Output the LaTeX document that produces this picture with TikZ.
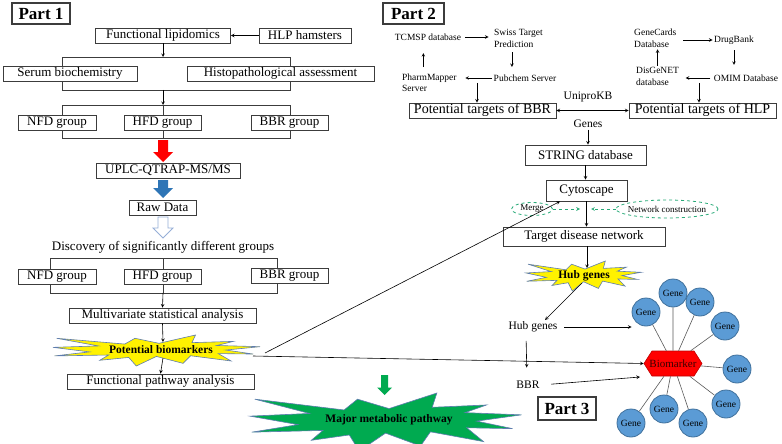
\documentclass[tikz,border=0pt]{standalone}
\usepackage{fontspec}
\setmainfont{Liberation Serif}
\usetikzlibrary{positioning, shapes.geometric, shapes.symbols}
\usetikzlibrary{calc}
\definecolor{boxline}{RGB}{60,60,60}
\definecolor{burstline}{RGB}{95,125,175}
\definecolor{genefill}{RGB}{91,155,213}
\definecolor{geneline}{RGB}{65,113,156}
\definecolor{mdgreen}{RGB}{0,170,80}
\definecolor{dashgreen}{RGB}{40,170,120}
\definecolor{uplcblue}{RGB}{46,117,182}
\definecolor{hollowline}{RGB}{150,175,215}
\tikzstyle{box} = [rectangle, draw=boxline, line width=0.8pt, fill=white, minimum height=15pt, inner sep=0pt, text centered, font=\fontsize{13}{13}\selectfont]
\tikzstyle{partbox} = [rectangle, draw=boxline, line width=1.6pt, fill=white, inner sep=0pt, font=\fontsize{17}{17}\selectfont\bfseries]
\tikzstyle{smalltext} = [inner sep=1.5pt, font=\fontsize{9.5}{11.5}\selectfont, align=left]
\tikzstyle{plaintext} = [inner sep=1.5pt, font=\fontsize{11.5}{11.5}\selectfont]
\tikzstyle{bursttext} = [inner sep=1pt, font=\fontsize{11.5}{11.5}\selectfont\bfseries]
\tikzstyle{gene} = [circle, draw=geneline, fill=genefill, line width=0.8pt, minimum size=28pt, inner sep=0pt, font=\fontsize{9.5}{9.5}\selectfont]
\tikzstyle{dashell} = [ellipse, draw=dashgreen, dashed, line width=0.8pt, inner sep=0pt, inner xsep=-8pt, font=\fontsize{9}{9}\selectfont]
\tikzstyle{arrow} = [->,>=stealth, line width=0.6pt]
\tikzstyle{dasharrow} = [->,>=stealth, dashed, draw=dashgreen, line width=0.7pt]
\tikzstyle{bracket} = [line width=0.8pt, draw=boxline]
\tikzstyle{geneedge} = [line width=0.6pt, draw=black!65]
\tikzset{
  pics/burst/.style={code={\path[pic actions] (0.5,0.2685) -- (0.6723,0) -- (0.6553,0.2465) -- (0.8509,0.2063) -- (0.7732,0.3386) -- (0.9767,0.3767) -- (0.8151,0.4850) -- (0.9444,0.6144) -- (0.7795,0.5992) -- (0.8400,0.8377) -- (0.6491,0.6693) -- (0.6133,0.9138) -- (0.4876,0.6914) -- (0.3928,1) -- (0.3572,0.7235) -- (0.2205,0.8156) -- (0.2624,0.6453) -- (0.0063,0.6753) -- (0.1723,0.5451) -- (0,0.3988) -- (0.2142,0.3526) -- (0.0171,0.1063) -- (0.3385,0.2926) -- (0.3867,0.1063) -- cycle;}},
  pics/fatarrow/.style n args={3}{code={\path[pic actions] (-#1,0) -- (#1,0) -- (#1,{#3-#2}) -- (#2,{#3-#2}) -- (0,#3) -- (-#2,{#3-#2}) -- (-#1,{#3-#2}) -- cycle;}}
}
\begin{document}
\begin{tikzpicture}[x=1pt, y=-1pt]
		\clip (0,0) rectangle (782,444);
		%Part 1 brackets
		\draw[bracket] (62,57) rectangle (290,90);
		\draw[bracket] (62,105) rectangle (290,138);
		\draw[bracket] (50,258) rectangle (277,293);
		\coordinate (brAtop) at (163,57);
		\coordinate (brAbot) at (163,90);
		\coordinate (brBtop) at (163,105);
		\coordinate (brBbot) at (163,138);
		\coordinate (brCtop) at (163,258);
		\coordinate (brCbot) at (163,293);
		\draw[bracket] (brBtop) -- (brBbot);
		\draw[bracket] (brCtop) -- (brCbot);
		
		%Part 1 nodes
		\node (part1) [partbox, minimum width=58, minimum height=21] at (41,13.5) {Part 1};
		\node (funclip) [box, minimum width=135] at (163,35.5) {Functional lipidomics};
		\node (hlp) [box, minimum width=92] at (305,35.5) {HLP hamsters};
		\node (serum) [box, minimum width=134] at (70,73.5) {Serum biochemistry};
		\node (histo) [box, minimum width=187] at (280.5,73.5) {Histopathological assessment};
		\node (nfdA) [box, minimum width=78] at (57,122.5) {NFD group};
		\node (hfdA) [box, minimum width=77] at (162.5,122.5) {HFD group};
		\node (bbrA) [box, minimum width=77] at (289.5,122.5) {BBR group};
		\node (uplc) [box, minimum width=144] at (168,170.5) {UPLC-QTRAP-MS/MS};
		\node (rawdata) [box, minimum width=67] at (162.5,207.5) {Raw Data};
		\node (discover) [inner sep=0pt, font=\fontsize{13}{13}\selectfont] at (163,247) {Discovery of significantly different groups};
		\node (nfdB) [box, minimum width=78] at (57,277) {NFD group};
		\node (hfdB) [box, minimum width=77] at (162.5,277) {HFD group};
		\node (bbrB) [box, minimum width=77] at (289.5,276) {BBR group};
		\node (multi) [box, minimum width=187] at (162.5,315.5) {Multivariate statistical analysis};
		\pic[fill=yellow, draw=burstline, line width=0.6pt, xscale=212, yscale=31] at (53,335) {burst};
		\node (potbio) [bursttext] at (161,350) {Potential biomarkers};
		\node (funcpath) [box, minimum width=187] at (160.5,381.5) {Functional pathway analysis};
		\coordinate (potbiotop) at (163,342);
		\coordinate (potbiobot) at (163,358);
		\coordinate (potbioRa) at (265,353);
		\coordinate (potbioRb) at (253,356);
		
		%Part 1 arrows
		\pic[fill=red] at (163,140) {fatarrow={5}{10}{22}};
		\pic[fill=uplcblue] at (163,180) {fatarrow={5}{10}{18}};
		\pic[fill=white, draw=hollowline, line width=0.8pt] at (163,217) {fatarrow={5}{10}{21}};
		\draw [arrow](hlp.west) -- (funclip.east);
		\draw [arrow](funclip.south) -- (brAtop);
		\draw [arrow](brAbot) -- (brBtop);
		\draw [arrow](brCbot) -- (multi.north);
		\draw [arrow](multi.south) -- (potbiotop);
		\draw [arrow](potbiobot) -- (funcpath.north);
		
		%Part 2 nodes
		\node (part2) [partbox, minimum width=61, minimum height=21] at (413.5,13.5) {Part 2};
		\node (tcmsp) [smalltext] at (428,37) {TCMSP database};
		\node (swiss) [smalltext, anchor=west] at (492.5,38.5) {Swiss Target\\Prediction};
		\node (pubchem) [smalltext] at (525,78) {Pubchem Server};
		\node (pharm) [smalltext, anchor=west] at (400.5,83) {PharmMapper\\Server};
		\node (genecards) [smalltext, anchor=west] at (632.5,38.5) {GeneCards\\Database};
		\node (drugbank) [smalltext] at (734,40) {DrugBank};
		\node (omim) [smalltext] at (746,78) {OMIM Database};
		\node (disgenet) [smalltext, anchor=west] at (634.5,76.5) {DisGeNET\\database};
		\node (targbbr) [box, minimum width=147, font=\fontsize{14}{14}\selectfont] at (482.5,110.5) {Potential targets of BBR};
		\node (targhlp) [box, minimum width=147, font=\fontsize{14}{14}\selectfont] at (702.5,110.5) {Potential targets of HLP};
		\node (uniprokb) [plaintext] at (588,97) {UniproKB};
		\node (genes) [plaintext] at (588,124) {Genes};
		\node (string) [box, minimum width=121, minimum height=20] at (585.5,155) {STRING database};
		\node (cyto) [box, minimum width=81, minimum height=21] at (586.5,190.5) {Cytoscape};
		\node (merge) [dashell, minimum width=41, minimum height=13] at (532,209) {Merge};
		\node (netcon) [dashell, minimum width=102, minimum height=18] at (667,209) {Network construction};
		\node (target) [box, minimum width=162, minimum height=19] at (584,236.5) {Target disease network};
		\pic[fill=yellow, draw=burstline, line width=0.6pt, xscale=118, yscale=30] at (526,261) {burst};
		\node (hubburst) [bursttext] at (584,276) {Hub genes};
		\coordinate (pubsplit) at (477,83);
		\coordinate (omimsplit) at (699,83);
		\coordinate (mergeend) at (580,209);
		\coordinate (netend) at (591,209);
		\coordinate (hubtop) at (587,268);
		\coordinate (hubbot) at (582,283);
		
		%Part 2 arrows
		\draw [arrow, shorten <=2pt, shorten >=4pt](tcmsp.east) -- (tcmsp.east -| swiss.west);
		\draw [arrow, shorten <=3pt, shorten >=6pt]([xshift=-6.5]swiss.south) -- ([xshift=-6.5]swiss.south |- pubchem.north);
		\draw [arrow, shorten >=7pt](pubchem.west) -- (pubchem.west -| pharm.east);
		\draw [arrow, shorten <=5pt, shorten >=11pt]([xshift=-6]pharm.north) -- ([xshift=-6]pharm.north |- tcmsp.south);
		\draw [arrow](pubsplit) -- (pubsplit |- targbbr.north);
		\draw [arrow, shorten <=5pt](genecards.east |- drugbank) -- (drugbank.west);
		\draw [arrow, shorten <=4pt, shorten >=8pt](drugbank.south) -- (drugbank.south |- omim.north);
		\draw [arrow, shorten <=2pt, shorten >=5pt](omim.west) -- (omim.west -| disgenet.east);
		\draw [arrow](disgenet.north) -- (disgenet.north |- genecards.south);
		\draw [arrow](omimsplit) -- (omimsplit |- targhlp.north);
		\draw [<->,>=stealth, line width=0.6pt](targbbr.east) -- (targhlp.west);
		\draw [arrow](genes.south) -- (genes.south |- string.north);
		\draw [arrow](string.south) -- (string.south |- cyto.north);
		\draw [arrow](cyto.south) -- (cyto.south |- target.north);
		\draw [dasharrow](merge.east) -- (mergeend);
		\draw [dasharrow](netcon.west) -- (netend);
		\draw [arrow](target.south -| hubtop) -- (hubtop);
		
		%Part 3 nodes
		\node (part3) [partbox, minimum width=58, minimum height=23] at (567,408.5) {Part 3};
		\node (hubtext) [plaintext] at (533,327) {Hub genes};
		\node (bbrtext) [plaintext] at (528,385) {BBR};
		\node (biomarker) [signal, signal to=east and west, signal pointer angle=115, fill=red, draw=red!75!black, line width=0.6pt, minimum width=58, minimum height=25, inner sep=0pt, inner xsep=-3pt, text={rgb,255:red,60;green,0;blue,0}, font=\fontsize{11}{11}\selectfont] at (673,363.5) {Biomarker};
		\foreach \gx/\gy [count=\i] in {646/312, 673/293, 700/302, 725/326, 737/369, 726/404, 693/423, 664/409, 631/423}
			\node (gene\i) [gene] at (\gx,\gy) {Gene};
		\foreach \i in {1,...,9}
			\draw [geneedge](biomarker) -- (gene\i);
		\pic[fill=mdgreen] at (384.5,375) {fatarrow={3.5}{7.5}{20}};
		\pic[fill=mdgreen, draw=burstline, line width=0.6pt, xscale=278, yscale=58] at (250,393) {burst};
		\node (major) [bursttext] at (389,420) {Major metabolic pathway};
		\coordinate (bbrend) at (640,377);
		
		%Part 3 arrows
		\draw [arrow](hubbot) -- ([xshift=12]hubtext.north);
		\draw [arrow, shorten <=5pt](hubtext.east) -- (hubtext.east -| gene1.west);
		\draw [arrow, shorten <=7pt, shorten >=12pt]([xshift=-7]hubtext.south) -- ([xshift=-1]bbrtext.north);
		\draw [arrow, shorten <=10pt](bbrtext.east) -- (bbrend);
		\draw [arrow](potbioRa) -- ([xshift=-26.5]cyto.south);
		\draw [arrow](potbioRb) -- (biomarker.west);
	\end{tikzpicture}
\end{document}
